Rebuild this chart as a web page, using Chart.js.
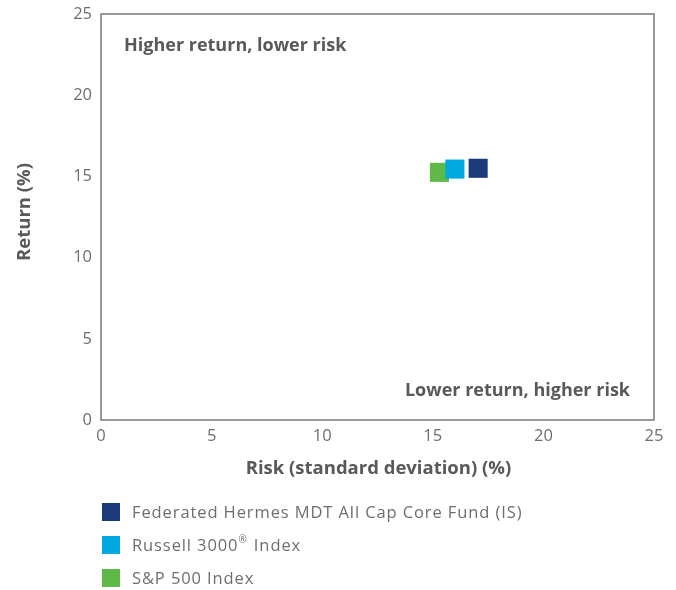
<!DOCTYPE html>
<html>
<head>
<meta charset="utf-8">
<script src="https://cdn.jsdelivr.net/npm/chart.js@4/dist/chart.umd.min.js"></script>
<style>
html,body{margin:0;padding:0;background:#fff;}
#wrap{width:676px;height:590px;position:relative;}
</style>
</head>
<body>
<div id="wrap"><canvas id="c" width="676" height="590"></canvas></div>
<script>
const seriesNames = ["Federated Hermes MDT All Cap Core Fund (IS)", "Russell 3000\u00AE Index", "S&P 500 Index"];
const riskValues = [17.05, 16.0, 15.3];
const returnValues = [15.5, 15.45, 15.25];
const seriesColors = ["#1b3a7c", "#00a9e0", "#5fb946"];
const xTicks = [0, 5, 10, 15, 20, 25];
const yTicks = [0, 5, 10, 15, 20, 25];
const xTitle = "Risk (standard deviation) (%)";
const yTitle = "Return (%)";
const noteTopLeft = "Higher return, lower risk";
const noteBottomRight = "Lower return, higher risk";

const FONT = "'Open Sans', Lato, sans-serif";
const TXT = "#58595b";

const datasets = seriesNames.map((n, i) => ({
  label: n,
  data: [{x: riskValues[i], y: returnValues[i]}],
  backgroundColor: seriesColors[i],
  borderWidth: 0,
  pointStyle: 'rect',
  pointRadius: 13.5,
  pointHoverRadius: 13.5
}));

function drawWithSup(ctx, text, x, y, size) {
  const parts = text.split("\u00AE");
  let cx = x;
  parts.forEach((p, i) => {
    ctx.font = size + "px " + FONT;
    ctx.fillText(p, cx, y);
    cx += ctx.measureText(p).width;
    if (i < parts.length - 1) {
      ctx.font = Math.round(size * 0.6) + "px " + FONT;
      ctx.fillText("\u00AE", cx, y - size * 0.35);
      cx += ctx.measureText("\u00AE").width + 1;
    }
  });
}

const decor = {
  id: 'decor',
  afterDraw(chart) {
    const ctx = chart.ctx, a = chart.chartArea;
    ctx.save();
    ctx.strokeStyle = "#7a7a7a";
    ctx.lineWidth = 1.5;
    ctx.strokeRect(a.left, a.top, a.right - a.left, a.bottom - a.top);
    ctx.fillStyle = TXT;
    ctx.font = "bold 18px " + FONT;
    ctx.textBaseline = "middle";
    ctx.textAlign = "left";
    ctx.fillText(noteTopLeft, a.left + 23, 46);
    ctx.textAlign = "right";
    ctx.fillText(noteBottomRight, a.right - 24, 391);
    ctx.font = "bold 18.5px " + FONT;
    ctx.textAlign = "center";
    ctx.fillText(xTitle, (a.left + a.right) / 2 + 1, 469);
    ctx.save();
    ctx.translate(25, 212);
    ctx.rotate(-Math.PI / 2);
    ctx.fillText(yTitle, 0, 0);
    ctx.restore();
    ctx.textAlign = "left";
    ctx.letterSpacing = "0.9px";
    seriesNames.forEach((n, i) => {
      const cy = 512 + i * 33;
      ctx.fillStyle = seriesColors[i];
      ctx.fillRect(102, cy - 9, 18, 18);
      ctx.fillStyle = "#6d6e71";
      drawWithSup(ctx, n, 132, cy + 1, 16.5);
    });
    ctx.letterSpacing = "0px";
    ctx.restore();
  }
};

new Chart(document.getElementById('c'), {
  type: 'scatter',
  data: { datasets },
  options: {
    responsive: false,
    animation: false,
    devicePixelRatio: 1,
    layout: { padding: { top: 14, right: 22, left: 0, bottom: 0 } },
    plugins: { legend: { display: false }, tooltip: { enabled: false } },
    scales: {
      x: {
        type: 'linear', min: 0, max: 25,
        afterBuildTicks: s => { s.ticks = xTicks.map(v => ({value: v})); },
        afterFit: s => { s.height = 170; s.paddingLeft = 0; s.paddingRight = 0; },
        grid: { display: false, drawTicks: false },
        border: { display: false },
        ticks: { color: "#6d6e71", font: { family: FONT, size: 16.5 }, padding: 6 }
      },
      y: {
        type: 'linear', min: 0, max: 25,
        afterBuildTicks: s => { s.ticks = yTicks.map(v => ({value: v})); },
        afterFit: s => { s.width = 101; s.paddingTop = 0; s.paddingBottom = 0; },
        grid: { display: false, drawTicks: false },
        border: { display: false },
        ticks: { color: "#6d6e71", font: { family: FONT, size: 16.5 }, padding: 9 }
      }
    }
  },
  plugins: [decor]
});
</script>
</body>
</html>
